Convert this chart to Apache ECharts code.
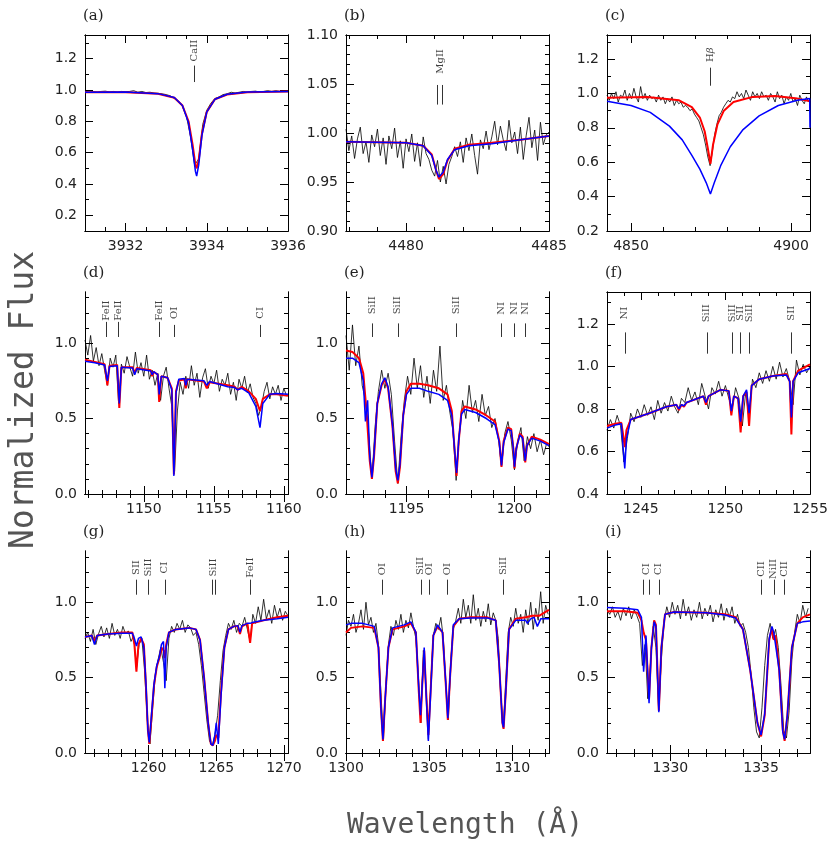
<!DOCTYPE html>
<html><head><meta charset="utf-8">
<script src="https://cdn.jsdelivr.net/npm/echarts@6/dist/echarts.min.js"></script>
<style>html,body{margin:0;padding:0;background:#fff}#c{width:831px;height:852px}</style>
</head><body><div id="c"></div>
<script>
// ---------- DATA ----------
// (a) Ca II
const obsA_start = 3931.0, obsA_step = 0.1;
const obsA = [0.99,0.985,0.99,0.985,0.99,0.992,0.987,0.99,0.985,0.99,0.988,0.99,0.995,0.985,0.99,0.983,0.985,0.98,0.978,0.975,0.97,0.962,0.945,0.93,0.895,0.83,0.70,0.52,0.56,0.78,0.87,0.915,0.945,0.955,0.97,0.975,0.985,0.98,0.985,0.99,0.985,0.99,0.992,0.986,0.99,0.995,0.99,0.995,0.99,0.995,0.99];
const redA = [[3931,0.985],[3932,0.985],[3932.8,0.975],[3933.2,0.95],[3933.4,0.90],[3933.55,0.80],[3933.65,0.65],[3933.72,0.52],[3933.75,0.50],[3933.8,0.55],[3933.88,0.72],[3934.0,0.86],[3934.2,0.94],[3934.5,0.97],[3935,0.985],[3936,0.99]];
const blueA = [[3931,0.985],[3932,0.986],[3932.8,0.976],[3933.2,0.952],[3933.4,0.90],[3933.55,0.79],[3933.65,0.62],[3933.72,0.48],[3933.75,0.45],[3933.8,0.52],[3933.88,0.71],[3934.0,0.86],[3934.2,0.94],[3934.5,0.972],[3935,0.986],[3936,0.99]];
const idsA = [{x:[3933.7], y:[1.05,1.155], ly:1.25, t:'CaII'}];
// (b) Mg II
const obsB_start = 4477.9, obsB_step = 0.1;
const obsB = [1.004,0.982,0.997,0.974,0.994,1.006,0.979,0.991,0.970,0.998,0.986,1.004,0.977,0.995,0.968,0.997,0.984,1.005,0.975,0.992,0.964,0.994,0.981,0.999,0.971,0.990,0.966,0.996,0.979,0.973,0.962,0.956,0.972,0.950,0.966,0.948,0.968,0.976,0.986,0.976,0.991,0.970,0.995,0.982,0.999,0.977,0.958,0.993,0.984,1.002,0.983,0.996,1.012,0.988,1.007,0.993,0.982,1.013,0.990,1.001,0.979,1.006,0.973,0.997,1.016,0.985,1.003,0.972,1.011,0.988,0.998,1.001];
const redB = [[4477.9,0.991],[4480,0.990],[4480.6,0.987],[4480.9,0.978],[4481.05,0.962],[4481.15,0.953],[4481.3,0.958],[4481.45,0.972],[4481.7,0.984],[4482.2,0.988],[4483,0.990],[4484,0.993],[4485,0.997]];
const blueB = [[4477.9,0.991],[4480,0.990],[4480.6,0.987],[4480.9,0.977],[4481.05,0.962],[4481.15,0.955],[4481.3,0.960],[4481.45,0.973],[4481.7,0.983],[4482.2,0.987],[4483,0.989],[4484,0.993],[4485,0.997]];
const idsB = [{x:[4481.09,4481.28], y:[1.029,1.049], ly:1.073, t:'MgII'}];
// (c) H beta
const obsC_start = 4842.5, obsC_step = 0.7;
const obsC = [0.99,0.96,1.00,0.97,1.01,0.95,0.99,0.98,1.02,0.96,1.00,0.97,1.03,0.98,0.95,1.04,0.97,1.00,0.96,0.99,0.97,
0.98,0.95,0.99,0.96,0.98,0.94,0.97,0.95,0.98,0.93,0.96,0.94,0.95,0.92,0.93,
0.92,0.90,0.91,0.88,0.86,0.84,0.80,0.76,0.70,0.63,0.58,
0.66,0.76,0.82,0.87,0.89,0.92,0.94,0.96,0.95,
0.98,0.97,1.01,0.98,1.00,0.97,1.02,0.99,0.96,1.01,0.98,1.00,0.97,1.01,0.98,
0.99,0.96,1.00,0.98,0.95,1.01,0.97,0.99,0.94,0.98,0.96,1.00,0.95,0.97,0.93,0.99,0.96,0.94,0.98,0.95];
const redC = [[4842.5,0.975],[4855,0.98],[4865,0.96],[4869,0.92],[4871.5,0.86],[4873,0.78],[4874,0.68],[4874.8,0.59],[4875.6,0.70],[4877,0.82],[4879,0.90],[4882,0.95],[4888,0.98],[4895,0.985],[4902,0.97],[4905.9,0.955]];
const blueC = [[4842.5,0.955],[4850,0.93],[4856,0.89],[4862,0.81],[4866,0.73],[4869,0.64],[4871.5,0.56],[4873.5,0.48],[4874.8,0.415],[4876,0.48],[4878,0.58],[4881,0.69],[4885,0.79],[4890,0.87],[4896,0.93],[4902,0.96],[4905.8,0.97],[4905.9,0.80]];
const idsC = [{x:[4874.8], y:[1.045,1.15], ly:1.225, t:'Hβ'}];
// (d)
const obsD_start = 1145.8, obsD_step = 0.2;
const obsD = [1.02,0.92,1.05,0.88,0.97,0.85,0.93,0.82,0.72,0.90,0.84,0.92,0.60,0.86,0.80,0.91,0.84,0.78,0.94,0.80,0.87,0.78,0.92,0.76,0.82,0.72,0.80,0.62,0.78,0.84,0.70,0.58,0.15,0.55,0.74,0.66,0.78,0.70,0.85,0.72,0.80,0.64,0.77,0.83,0.70,0.78,0.73,0.82,0.68,0.76,0.72,0.80,0.66,0.74,0.62,0.76,0.70,0.78,0.67,0.73,0.64,0.60,0.52,0.58,0.68,0.74,0.63,0.71,0.66,0.72,0.62,0.70,0.65];
const redD = [[1145.8,0.89],[1146.5,0.875],[1147.2,0.86],[1147.4,0.72],[1147.55,0.85],[1148.1,0.855],[1148.25,0.57],[1148.4,0.84],[1149.2,0.84],[1149.35,0.80],[1149.5,0.835],[1150.5,0.82],[1150.6,0.78],[1150.7,0.81],[1151.0,0.79],[1151.1,0.61],[1151.25,0.78],[1151.7,0.77],[1152.0,0.70],[1152.15,0.13],[1152.3,0.68],[1152.5,0.75],[1152.9,0.76],[1153.0,0.70],[1153.1,0.76],[1154.3,0.745],[1154.5,0.70],[1154.7,0.74],[1156.0,0.72],[1156.5,0.71],[1156.7,0.69],[1157.0,0.71],[1157.5,0.68],[1158.0,0.63],[1158.3,0.55],[1158.5,0.63],[1159.0,0.66],[1159.5,0.66],[1160.3,0.65]];
const blueD = [[1145.8,0.88],[1146.5,0.87],[1147.2,0.855],[1147.4,0.75],[1147.55,0.845],[1148.1,0.85],[1148.25,0.60],[1148.4,0.84],[1149.2,0.835],[1149.35,0.79],[1149.5,0.83],[1150.5,0.815],[1150.6,0.79],[1150.7,0.81],[1151.0,0.79],[1151.1,0.66],[1151.25,0.78],[1151.7,0.77],[1152.0,0.69],[1152.15,0.12],[1152.3,0.67],[1152.5,0.76],[1152.9,0.765],[1153.0,0.72],[1153.1,0.76],[1154.3,0.75],[1154.5,0.72],[1154.7,0.745],[1156.0,0.71],[1156.5,0.705],[1156.7,0.69],[1157.0,0.70],[1157.5,0.67],[1158.0,0.58],[1158.3,0.44],[1158.5,0.60],[1159.0,0.66],[1159.5,0.665],[1160.3,0.66]];
const idsD = [{x:[1147.3],y:[1.04,1.14],ly:1.215,t:'FeII'},{x:[1148.2],y:[1.04,1.14],ly:1.215,t:'FeII'},{x:[1151.1],y:[1.04,1.14],ly:1.215,t:'FeII'},{x:[1152.2],y:[1.04,1.12],ly:1.2,t:'OI'},{x:[1158.3],y:[1.04,1.12],ly:1.2,t:'CI'}];
// (e)
const obsE_start = 1192.2, obsE_step = 0.15;
const obsE = [1.05,0.82,1.12,0.85,0.98,0.72,0.62,0.40,0.10,0.45,0.68,0.82,0.70,0.80,0.66,0.35,0.07,0.38,0.62,0.78,0.66,0.90,0.70,0.85,0.64,0.78,0.60,0.82,0.68,0.98,0.62,0.72,0.55,0.42,0.09,0.40,0.62,0.50,0.72,0.54,0.62,0.48,0.66,0.52,0.58,0.44,0.50,0.38,0.18,0.40,0.48,0.36,0.16,0.35,0.44,0.22,0.38,0.30,0.40,0.28,0.36,0.26,0.34,0.30];
const redE = [[1192.2,0.95],[1192.5,0.94],[1192.8,0.90],[1193.0,0.80],[1193.15,0.55],[1193.3,0.22],[1193.4,0.10],[1193.5,0.25],[1193.65,0.60],[1193.85,0.72],[1194.0,0.76],[1194.15,0.70],[1194.35,0.45],[1194.5,0.15],[1194.6,0.07],[1194.7,0.18],[1194.85,0.52],[1195.0,0.68],[1195.2,0.73],[1195.6,0.73],[1196.0,0.72],[1196.5,0.70],[1196.9,0.66],[1197.1,0.55],[1197.25,0.25],[1197.32,0.12],[1197.42,0.35],[1197.55,0.55],[1197.7,0.58],[1198.2,0.56],[1198.7,0.52],[1199.1,0.48],[1199.3,0.35],[1199.4,0.18],[1199.5,0.35],[1199.7,0.44],[1199.85,0.43],[1199.95,0.30],[1200.0,0.17],[1200.08,0.30],[1200.25,0.40],[1200.38,0.38],[1200.45,0.28],[1200.5,0.21],[1200.58,0.32],[1200.8,0.38],[1201.2,0.36],[1201.6,0.33]];
const blueE = [[1192.2,0.90],[1192.5,0.90],[1192.8,0.87],[1193.0,0.75],[1193.1,0.48],[1193.2,0.62],[1193.3,0.25],[1193.4,0.11],[1193.5,0.27],[1193.65,0.60],[1193.85,0.73],[1194.0,0.77],[1194.15,0.71],[1194.35,0.46],[1194.5,0.17],[1194.6,0.09],[1194.7,0.20],[1194.85,0.52],[1195.0,0.66],[1195.2,0.70],[1195.6,0.70],[1196.0,0.68],[1196.5,0.66],[1196.9,0.62],[1197.1,0.52],[1197.25,0.26],[1197.32,0.14],[1197.42,0.36],[1197.55,0.53],[1197.7,0.56],[1198.2,0.54],[1198.7,0.50],[1199.1,0.46],[1199.3,0.34],[1199.4,0.19],[1199.5,0.34],[1199.7,0.43],[1199.85,0.42],[1199.95,0.30],[1200.0,0.18],[1200.08,0.30],[1200.25,0.39],[1200.38,0.37],[1200.45,0.28],[1200.5,0.22],[1200.58,0.32],[1200.8,0.37],[1201.2,0.35],[1201.6,0.32]];
const idsE = [{x:[1193.4],y:[1.04,1.13],ly:1.25,t:'SiII'},{x:[1194.6],y:[1.04,1.13],ly:1.25,t:'SiII'},{x:[1197.3],y:[1.04,1.13],ly:1.25,t:'SiII'},{x:[1199.4],y:[1.04,1.13],ly:1.23,t:'NI'},{x:[1200.0],y:[1.04,1.13],ly:1.23,t:'NI'},{x:[1200.5],y:[1.04,1.13],ly:1.23,t:'NI'}];
// (f)
const obsF_start = 1243.0, obsF_step = 0.2;
const obsF = [0.70,0.75,0.71,0.77,0.72,0.55,0.66,0.78,0.74,0.80,0.76,0.82,0.77,0.81,0.75,0.84,0.78,0.83,0.79,0.86,0.81,0.78,0.85,0.83,0.90,0.84,0.88,0.82,0.92,0.86,0.80,0.90,0.87,0.93,0.86,0.91,0.85,0.80,0.90,0.85,0.72,0.88,0.75,0.94,0.90,0.97,0.92,0.98,0.93,1.00,0.94,1.02,0.95,0.99,0.93,0.82,1.03,0.96,1.01,0.97,1.00];
const redF = [[1243,0.72],[1243.5,0.73],[1243.85,0.735],[1243.95,0.68],[1244.05,0.62],[1244.15,0.70],[1244.4,0.75],[1245.5,0.78],[1246.5,0.81],[1247.1,0.82],[1247.25,0.795],[1247.4,0.82],[1247.55,0.81],[1247.7,0.83],[1248.7,0.86],[1248.85,0.82],[1249.0,0.86],[1249.7,0.89],[1250.2,0.885],[1250.35,0.77],[1250.5,0.86],[1250.75,0.85],[1250.9,0.69],[1251.05,0.86],[1251.25,0.88],[1251.4,0.72],[1251.55,0.91],[1252.0,0.94],[1252.8,0.955],[1253.6,0.965],[1253.8,0.93],[1253.9,0.68],[1254.0,0.93],[1254.3,0.98],[1255,1.01]];
const blueF = [[1243,0.71],[1243.5,0.725],[1243.85,0.73],[1243.95,0.62],[1244.05,0.52],[1244.15,0.66],[1244.4,0.75],[1245.5,0.78],[1246.5,0.81],[1247.1,0.82],[1247.25,0.80],[1247.4,0.82],[1247.55,0.815],[1247.7,0.83],[1248.7,0.86],[1248.85,0.83],[1249.0,0.86],[1249.7,0.89],[1250.2,0.885],[1250.35,0.79],[1250.5,0.86],[1250.75,0.85],[1250.9,0.74],[1251.05,0.86],[1251.25,0.89],[1251.4,0.78],[1251.55,0.91],[1252.0,0.94],[1252.8,0.955],[1253.6,0.96],[1253.8,0.93],[1253.9,0.76],[1254.0,0.93],[1254.3,0.97],[1255,0.99]];
const idsF = [{x:[1244.05],y:[1.06,1.16],ly:1.25,t:'NI'},{x:[1248.9],y:[1.06,1.16],ly:1.25,t:'SiII'},{x:[1250.4],y:[1.06,1.16],ly:1.25,t:'SiII'},{x:[1250.9],y:[1.06,1.16],ly:1.25,t:'SII'},{x:[1251.4],y:[1.06,1.16],ly:1.25,t:'SiII'},{x:[1253.9],y:[1.06,1.16],ly:1.25,t:'SII'}];
// (g)
const obsG_start = 1255.3, obsG_step = 0.2;
const obsG = [0.76,0.80,0.74,0.82,0.72,0.79,0.84,0.77,0.83,0.76,0.86,0.78,0.82,0.76,0.84,0.79,0.81,0.74,0.78,0.56,0.72,0.76,0.55,0.22,0.06,0.30,0.52,0.62,0.70,0.60,0.48,0.76,0.84,0.80,0.86,0.82,0.88,0.80,0.85,0.83,0.78,0.80,0.72,0.58,0.40,0.22,0.08,0.05,0.12,0.25,0.48,0.68,0.78,0.86,0.82,0.88,0.80,0.86,0.84,0.90,0.82,0.74,0.92,0.86,0.97,0.88,1.02,0.89,0.95,0.86,0.98,0.90,0.96,0.88,0.94,0.91];
const redG = [[1255.3,0.77],[1255.8,0.78],[1256.0,0.74],[1256.2,0.78],[1257,0.79],[1258,0.80],[1258.8,0.80],[1258.95,0.72],[1259.1,0.54],[1259.25,0.72],[1259.45,0.76],[1259.65,0.72],[1259.8,0.45],[1259.95,0.15],[1260.05,0.06],[1260.2,0.22],[1260.4,0.45],[1260.6,0.57],[1260.8,0.63],[1260.95,0.70],[1261.1,0.68],[1261.2,0.63],[1261.3,0.72],[1261.5,0.80],[1262,0.82],[1263,0.83],[1263.5,0.82],[1263.8,0.75],[1264.1,0.50],[1264.4,0.20],[1264.6,0.06],[1264.75,0.05],[1264.9,0.08],[1265.0,0.12],[1265.15,0.10],[1265.35,0.40],[1265.6,0.70],[1265.9,0.82],[1266.3,0.84],[1266.6,0.84],[1266.75,0.79],[1266.9,0.84],[1267.3,0.86],[1267.5,0.73],[1267.65,0.86],[1268.5,0.88],[1269.5,0.90],[1270.3,0.91]];
const blueG = [[1255.3,0.77],[1255.8,0.78],[1256.0,0.72],[1256.2,0.78],[1257,0.79],[1258,0.795],[1258.8,0.795],[1258.95,0.76],[1259.1,0.71],[1259.25,0.76],[1259.45,0.77],[1259.65,0.70],[1259.8,0.47],[1259.95,0.15],[1260.05,0.07],[1260.2,0.24],[1260.4,0.46],[1260.6,0.58],[1260.8,0.64],[1260.95,0.72],[1261.1,0.74],[1261.2,0.43],[1261.3,0.70],[1261.5,0.80],[1262,0.82],[1263,0.83],[1263.5,0.82],[1263.8,0.75],[1264.1,0.50],[1264.4,0.20],[1264.6,0.06],[1264.75,0.05],[1264.9,0.12],[1265.0,0.20],[1265.15,0.06],[1265.35,0.38],[1265.6,0.70],[1265.9,0.82],[1266.3,0.84],[1266.6,0.845],[1266.75,0.80],[1266.9,0.845],[1267.3,0.86],[1267.5,0.86],[1267.65,0.865],[1268.5,0.88],[1269.5,0.89],[1270.3,0.90]];
const idsG = [{x:[1259.1],y:[1.05,1.15],ly:1.23,t:'SII'},{x:[1260.0],y:[1.05,1.15],ly:1.23,t:'SiII'},{x:[1261.2],y:[1.05,1.15],ly:1.23,t:'CI'},{x:[1264.7,1264.9],y:[1.05,1.15],ly:1.23,t:'SiII'},{x:[1267.5],y:[1.05,1.15],ly:1.23,t:'FeII'}];
// (h)
const obsH_start = 1300.0, obsH_step = 0.15;
const obsH = [0.78,0.88,0.84,0.92,0.80,0.86,0.95,0.82,1.00,0.85,0.90,0.80,0.86,0.72,0.40,0.08,0.45,0.72,0.84,0.78,0.88,0.82,0.92,0.80,0.88,0.83,0.93,0.84,0.76,0.50,0.20,0.68,0.45,0.09,0.48,0.78,0.86,0.82,0.90,0.76,0.45,0.22,0.62,0.82,0.88,0.96,0.86,1.02,0.90,0.98,0.86,1.05,0.88,0.96,0.84,0.94,0.87,0.99,0.85,0.93,0.88,0.76,0.38,0.17,0.48,0.80,0.90,0.84,0.96,0.86,0.92,0.80,0.95,0.85,1.00,0.82,0.96,0.88,1.07,0.86,0.98,0.92];
const redH = [[1300,0.80],[1300.3,0.83],[1301,0.84],[1301.7,0.83],[1301.95,0.70],[1302.1,0.30],[1302.22,0.08],[1302.35,0.35],[1302.55,0.70],[1302.8,0.82],[1303.5,0.84],[1303.9,0.86],[1304.2,0.80],[1304.38,0.40],[1304.48,0.20],[1304.58,0.45],[1304.7,0.68],[1304.82,0.40],[1304.95,0.12],[1305.08,0.40],[1305.25,0.78],[1305.5,0.84],[1305.8,0.80],[1306.0,0.45],[1306.12,0.22],[1306.25,0.50],[1306.45,0.84],[1306.8,0.89],[1307.5,0.90],[1308.5,0.90],[1309.0,0.88],[1309.2,0.60],[1309.4,0.20],[1309.47,0.16],[1309.6,0.40],[1309.8,0.82],[1310.2,0.89],[1310.8,0.90],[1311.2,0.91],[1311.6,0.91],[1312.2,0.95]];
const blueH = [[1300,0.85],[1300.3,0.86],[1301,0.86],[1301.7,0.84],[1301.95,0.70],[1302.1,0.30],[1302.22,0.09],[1302.35,0.35],[1302.55,0.70],[1302.8,0.83],[1303.5,0.85],[1303.9,0.87],[1304.2,0.80],[1304.38,0.42],[1304.48,0.25],[1304.58,0.45],[1304.7,0.70],[1304.82,0.38],[1304.95,0.08],[1305.08,0.38],[1305.25,0.78],[1305.5,0.85],[1305.8,0.80],[1306.0,0.46],[1306.12,0.23],[1306.25,0.50],[1306.45,0.85],[1306.8,0.89],[1307.5,0.895],[1308.5,0.895],[1309.0,0.88],[1309.2,0.60],[1309.4,0.20],[1309.47,0.17],[1309.6,0.40],[1309.8,0.82],[1310.2,0.88],[1310.8,0.88],[1310.9,0.86],[1311.1,0.89],[1311.3,0.90],[1311.5,0.84],[1311.7,0.89],[1312.2,0.89]];
const idsH = [{x:[1302.2],y:[1.05,1.15],ly:1.22,t:'OI'},{x:[1304.5],y:[1.05,1.15],ly:1.24,t:'SiII'},{x:[1305.0],y:[1.05,1.15],ly:1.22,t:'OI'},{x:[1306.1],y:[1.05,1.15],ly:1.22,t:'OI'},{x:[1309.45],y:[1.05,1.15],ly:1.24,t:'SiII'}];
// (i)
const obsI_start = 1326.5, obsI_step = 0.15;
const obsI = [0.95,0.92,0.97,0.90,0.94,0.88,0.96,0.91,0.97,0.89,0.95,0.91,0.86,0.58,0.72,0.36,0.60,0.84,0.70,0.28,0.62,0.88,0.97,0.90,1.00,0.92,0.98,0.89,1.02,0.91,0.97,0.88,0.95,0.90,1.00,0.89,0.96,0.91,0.98,0.87,0.95,0.90,0.99,0.88,0.96,0.90,0.97,0.86,0.92,0.84,0.86,0.80,0.70,0.52,0.30,0.14,0.10,0.30,0.58,0.78,0.86,0.76,0.82,0.70,0.45,0.15,0.10,0.28,0.62,0.80,0.92,0.86,0.98,0.90,0.96];
const redI = [[1326.5,0.94],[1327.5,0.94],[1328.2,0.93],[1328.4,0.88],[1328.52,0.80],[1328.65,0.75],[1328.82,0.36],[1328.95,0.70],[1329.1,0.88],[1329.2,0.85],[1329.36,0.28],[1329.5,0.70],[1329.7,0.92],[1330.2,0.935],[1332,0.93],[1333,0.92],[1333.6,0.90],[1334.0,0.82],[1334.4,0.55],[1334.8,0.20],[1335.0,0.11],[1335.2,0.25],[1335.45,0.75],[1335.6,0.83],[1335.7,0.75],[1335.8,0.78],[1336.0,0.55],[1336.2,0.15],[1336.3,0.08],[1336.45,0.25],[1336.7,0.70],[1337.0,0.86],[1337.3,0.90],[1337.7,0.92]];
const blueI = [[1326.5,0.965],[1327.5,0.96],[1328.2,0.95],[1328.4,0.90],[1328.52,0.54],[1328.65,0.78],[1328.82,0.33],[1328.95,0.70],[1329.1,0.87],[1329.2,0.84],[1329.36,0.27],[1329.5,0.70],[1329.7,0.92],[1330.2,0.935],[1332,0.93],[1333,0.915],[1333.6,0.895],[1334.0,0.82],[1334.4,0.55],[1334.8,0.20],[1335.0,0.12],[1335.2,0.26],[1335.45,0.76],[1335.6,0.84],[1335.7,0.80],[1335.8,0.79],[1336.0,0.55],[1336.2,0.14],[1336.3,0.09],[1336.45,0.25],[1336.7,0.70],[1337.0,0.86],[1337.3,0.87],[1337.7,0.875]];
const idsI = [{x:[1328.52,1328.82],y:[1.05,1.15],ly:1.22,t:'CI'},{x:[1329.36],y:[1.05,1.15],ly:1.22,t:'CI'},{x:[1335.0],y:[1.05,1.15],ly:1.22,t:'CII'},{x:[1335.7],y:[1.05,1.15],ly:1.22,t:'NiII'},{x:[1336.3],y:[1.05,1.15],ly:1.22,t:'CII'}];

// tick labels
const xLabA=[3932,3934,3936], xLabB=[4480,4485], xLabC=[4850,4900];
const xLabD=[1150,1155,1160], xLabE=[1195,1200], xLabF=[1245,1250,1255];
const xLabG=[1260,1265,1270], xLabH=[1300,1305,1310], xLabI=[1330,1335];
const yLabA=[0.2,0.4,0.6,0.8,1.0,1.2], yLabB=[0.90,0.95,1.00,1.05,1.10], yLabC=[0.2,0.4,0.6,0.8,1.0,1.2];
const yLabLow=[0.0,0.5,1.0], yLabF=[0.4,0.6,0.8,1.0,1.2];

// ---------- LAYOUT ----------
const cols=[85,346,607], W=203, rows=[35,292,551], H=[196,202,202];
const panels=[
 {n:'(a)',obs:obsA,os:obsA_start,st:obsA_step,red:redA,blue:blueA,ids:idsA,xr:[3931,3936],yr:[0.1,1.35],xl:xLabA,yl:yLabA,xm:0.5,ym:0.1,dec:1},
 {n:'(b)',obs:obsB,os:obsB_start,st:obsB_step,red:redB,blue:blueB,ids:idsB,xr:[4477.9,4485],yr:[0.9,1.1],xl:xLabB,yl:yLabB,xm:1,ym:0.01,dec:2},
 {n:'(c)',obs:obsC,os:obsC_start,st:obsC_step,red:redC,blue:blueC,ids:idsC,xr:[4842.5,4905.9],yr:[0.2,1.34],xl:xLabC,yl:yLabC,xm:10,ym:0.1,dec:1},
 {n:'(d)',obs:obsD,os:obsD_start,st:obsD_step,red:redD,blue:blueD,ids:idsD,xr:[1145.8,1160.3],yr:[0,1.338],xl:xLabD,yl:yLabLow,xm:1,ym:0.1,dec:1},
 {n:'(e)',obs:obsE,os:obsE_start,st:obsE_step,red:redE,blue:blueE,ids:idsE,xr:[1192.2,1201.6],yr:[0,1.338],xl:xLabE,yl:yLabLow,xm:1,ym:0.1,dec:1},
 {n:'(f)',obs:obsF,os:obsF_start,st:obsF_step,red:redF,blue:blueF,ids:idsF,xr:[1243,1255],yr:[0.4,1.35],xl:xLabF,yl:yLabF,xm:1,ym:0.1,dec:1},
 {n:'(g)',obs:obsG,os:obsG_start,st:obsG_step,red:redG,blue:blueG,ids:idsG,xr:[1255.3,1270.3],yr:[0,1.34],xl:xLabG,yl:yLabLow,xm:1,ym:0.1,dec:1},
 {n:'(h)',obs:obsH,os:obsH_start,st:obsH_step,red:redH,blue:blueH,ids:idsH,xr:[1300,1312.2],yr:[0,1.34],xl:xLabH,yl:yLabLow,xm:1,ym:0.1,dec:1},
 {n:'(i)',obs:obsI,os:obsI_start,st:obsI_step,red:redI,blue:blueI,ids:idsI,xr:[1326.5,1337.7],yr:[0,1.34],xl:xLabI,yl:yLabLow,xm:1,ym:0.1,dec:1}
];
function minorVals(r,s){const v=[];let k=Math.ceil(r[0]/s-1e-6);for(;k*s<=r[1]+1e-9;k++)v.push(+(k*s).toFixed(4));return v;}
const FONT='DejaVu Sans';
const grid=[],xAxis=[],yAxis=[],series=[],graphic=[];
panels.forEach((p,i)=>{
  const c=i%3,r=Math.floor(i/3);
  grid.push({left:cols[c],top:rows[r],width:W,height:H[r]});
  const line={show:true,lineStyle:{color:'#000',width:1}};
  const mkX=(pos,vals,len,lab)=>({gridIndex:i,type:'value',min:p.xr[0],max:p.xr[1],position:pos,
    axisLine:line,splitLine:{show:false},
    axisTick:{show:true,inside:true,length:len,customValues:vals,lineStyle:{color:'#000'}},
    axisLabel:lab?{show:true,customValues:p.xl,formatter:v=>String(v),fontFamily:FONT,fontSize:14,color:'#222',margin:8}:{show:false}});
  const mkY=(pos,vals,len,lab)=>({gridIndex:i,type:'value',min:p.yr[0],max:p.yr[1],position:pos,
    axisLine:line,splitLine:{show:false},
    axisTick:{show:true,inside:true,length:len,customValues:vals,lineStyle:{color:'#000'}},
    axisLabel:lab?{show:true,customValues:p.yl,formatter:v=>v.toFixed(p.dec),fontFamily:FONT,fontSize:14,color:'#222',margin:8}:{show:false}});
  const xmin=minorVals(p.xr,p.xm), ymin=minorVals(p.yr,p.ym);
  xAxis.push(mkX('bottom',p.xl,8,true),mkX('top',p.xl,8,false),mkX('bottom',xmin,4,false),mkX('top',xmin,4,false));
  yAxis.push(mkY('left',p.yl,8,true),mkY('right',p.yl,8,false),mkY('left',ymin,4,false),mkY('right',ymin,4,false));
  const ax={xAxisIndex:i*4,yAxisIndex:i*4};
  series.push({type:'line',...ax,data:p.obs.map((v,k)=>[p.os+k*p.st,v]),showSymbol:false,symbol:'none',lineStyle:{color:'#000',width:0.8},z:2,silent:true});
  series.push({type:'line',...ax,data:p.red,showSymbol:false,symbol:'none',lineStyle:{color:'#ff0000',width:2},z:3,silent:true});
  series.push({type:'line',...ax,data:p.blue,showSymbol:false,symbol:'none',lineStyle:{color:'#0000ff',width:1.5},z:4,silent:true});
  const mlines=[],labs=[];
  p.ids.forEach(d=>{
    d.x.forEach(x=>mlines.push([{coord:[x,d.y[0]]},{coord:[x,d.y[1]]}]));
    const xc=d.x.reduce((a,b)=>a+b,0)/d.x.length;
    labs.push([xc,d.ly,d.t]);
  });
  series.push({type:'scatter',...ax,data:labs,symbolSize:0,z:5,silent:true,
    label:{show:true,position:'inside',rotate:90,fontFamily:'DejaVu Serif',fontSize:10,color:'#111',
      formatter:q=>q.data[2]==='Hβ'?'H{i|β}':q.data[2],rich:{i:{fontStyle:'italic',fontFamily:'DejaVu Serif',fontSize:10}}},
    markLine:{silent:true,symbol:'none',label:{show:false},lineStyle:{color:'#000',width:0.8,type:'solid'},animation:false,data:mlines}});
  graphic.push({type:'text',left:cols[c]-2,top:rows[r]-26,style:{text:p.n,font:'15px "DejaVu Serif"',fill:'#222'}});
});
graphic.push({type:'text',x:24,y:400,rotation:Math.PI/2,style:{text:'Normalized Flux',font:'33px "DejaVu Sans Mono"',fill:'#555',align:'center',verticalAlign:'middle'}});
graphic.push({type:'text',x:465,y:826,style:{text:'Wavelength (Å)',font:'28px "DejaVu Sans Mono"',fill:'#555',align:'center',verticalAlign:'middle'}});
const chart=echarts.init(document.getElementById('c'));
chart.setOption({animation:false,backgroundColor:'#fff',grid,xAxis,yAxis,series,graphic});
</script></body></html>
